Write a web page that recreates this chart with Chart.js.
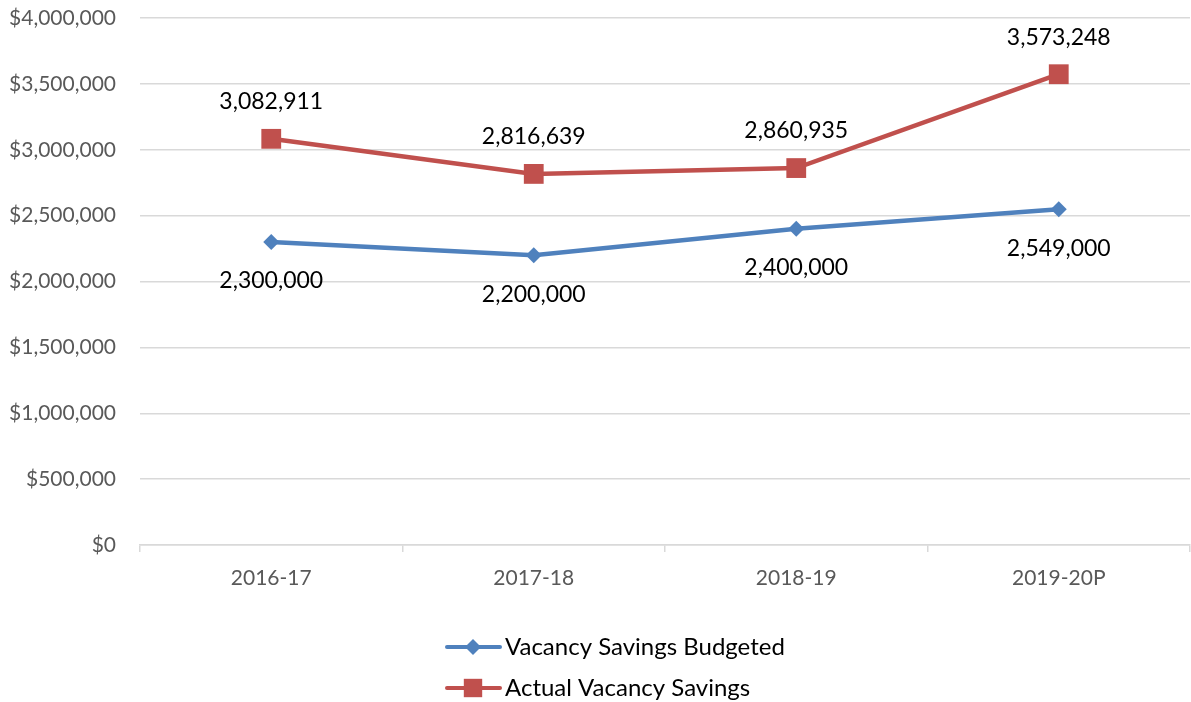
<!DOCTYPE html>
<html><head><meta charset="utf-8">
<script src="https://cdn.jsdelivr.net/npm/chart.js@4"></script>
<style>html,body{margin:0;padding:0;background:#fff;overflow:hidden}canvas{display:block}</style>
</head><body><canvas id="c" width="1191" height="702"></canvas>
<script>
const categories = ['2016-17','2017-18','2018-19','2019-20P'];
const budgeted = [2300000, 2200000, 2400000, 2549000];
const actual = [3082911, 2816639, 2860935, 3573248];
const seriesNames = ['Vacancy Savings Budgeted','Actual Vacancy Savings'];
const yTicks = [0,500000,1000000,1500000,2000000,2500000,3000000,3500000,4000000];

const FONT = 'Lato, "Open Sans", sans-serif';
const BLUE = '#4F81BD', RED = '#C0504D';
const fmt = v => v.toLocaleString('en-US');

const labelPlugin = {
  id: 'labels',
  afterDatasetsDraw(chart) {
    const ctx = chart.ctx;
    ctx.save();
    ctx.font = '23px ' + FONT;
    ctx.fillStyle = '#000';
    ctx.textAlign = 'center';
    ctx.textBaseline = 'middle';
    chart.data.datasets.forEach((ds, i) => {
      const meta = chart.getDatasetMeta(i);
      meta.data.forEach((pt, j) => {
        const dy = i === 0 ? 39 : -37;
        ctx.fillText(fmt(ds.data[j]), pt.x, pt.y + dy);
      });
    });
    ctx.restore();
  }
};

const legendPlugin = {
  id: 'customLegend',
  afterDraw(chart) {
    const ctx = chart.ctx;
    ctx.save();
    const items = [
      {name: seriesNames[0], color: BLUE, style: 'rectRot', r: 8, y: 647},
      {name: seriesNames[1], color: RED, style: 'rect', r: 13, y: 688}
    ];
    items.forEach(it => {
      ctx.strokeStyle = it.color;
      ctx.lineWidth = 4;
      ctx.lineCap = 'round';
      ctx.beginPath(); ctx.moveTo(447, it.y); ctx.lineTo(500, it.y); ctx.stroke();
      ctx.fillStyle = it.color;
      Chart.helpers.drawPoint(ctx, {pointStyle: it.style, radius: it.r, borderWidth: 0}, 473, it.y);
      ctx.fillStyle = '#000';
      ctx.font = '24px ' + FONT;
      ctx.textAlign = 'left';
      ctx.textBaseline = 'middle';
      ctx.fillText(it.name, 505, it.y);
    });
    ctx.restore();
  }
};

new Chart(document.getElementById('c'), {
  type: 'line',
  data: {
    labels: categories,
    datasets: [
      {label: seriesNames[0], data: budgeted, borderColor: BLUE, backgroundColor: BLUE, borderWidth: 4.5,
       pointStyle: 'rectRot', pointRadius: 8, pointHoverRadius: 8, pointBorderWidth: 0, tension: 0},
      {label: seriesNames[1], data: actual, borderColor: RED, backgroundColor: RED, borderWidth: 4.5,
       pointStyle: 'rect', pointRadius: 14, pointHoverRadius: 14, pointBorderWidth: 0, tension: 0}
    ]
  },
  options: {
    responsive: false, maintainAspectRatio: false, animation: false, devicePixelRatio: 1,
    layout: {autoPadding: false, padding: {top: 18, right: 1, left: 0, bottom: 0}},
    plugins: {legend: {display: false}, tooltip: {enabled: false}},
    scales: {
      x: {
        offset: true,
        grid: {display: true, drawOnChartArea: false, offset: true, tickLength: 7, color: '#d9d9d9', lineWidth: 1.5},
        border: {color: '#d9d9d9', width: 1.5},
        ticks: {color: '#595959', font: {family: FONT, size: 21}, padding: 14},
        afterFit(s) { s.height = 157; s.paddingLeft = 0; s.paddingRight = 0; }
      },
      y: {
        min: 0, max: 4000000,
        afterBuildTicks(s) { s.ticks = yTicks.map(v => ({value: v})); },
        grid: {color: '#d9d9d9', lineWidth: 1.5, drawTicks: false},
        border: {display: false},
        ticks: {color: '#595959', font: {family: FONT, size: 21}, padding: 24,
          callback: v => '$' + fmt(v)},
        afterFit(s) { s.width = 140; s.paddingTop = 0; s.paddingBottom = 0; }
      }
    }
  },
  plugins: [labelPlugin, legendPlugin]
});
</script></body></html>
